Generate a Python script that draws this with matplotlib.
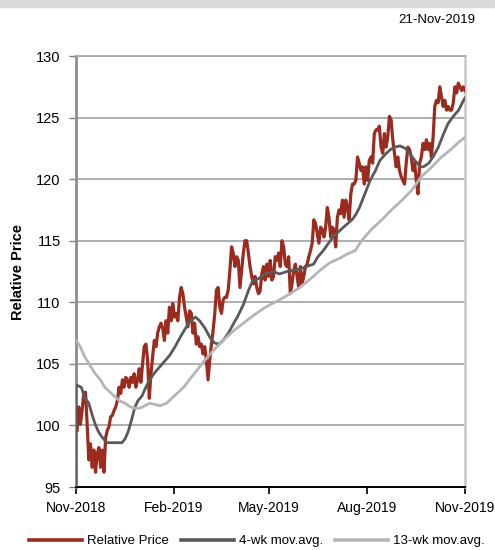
import matplotlib

matplotlib.use("Agg")
import matplotlib.pyplot as plt
import matplotlib.patches as mpatches
import pandas as pd

plt.rcParams["font.family"] = ["Liberation Sans", "DejaVu Sans"]

start = pd.Timestamp("2018-11-21")
first_obs = pd.Timestamp("2018-11-22")
end = pd.Timestamp("2019-11-21")
as_of = "21-Nov-2019"

# daily relative price
relative_price = [
    99.6, 101.5, 100.1, 101.2, 102.6, 102.7, 100.1, 97.2, 98.5, 96.6,
    98.0, 96.2, 97.7, 98.2, 96.6, 98.0, 96.2, 99.0, 99.6, 99.9,
    100.7, 100.8, 101.2, 101.5, 102.0, 103.1, 102.6, 103.7, 103.1, 103.9,
    103.7, 103.1, 103.9, 103.5, 104.2, 103.1, 103.7, 104.6, 103.5, 105.0,
    106.4, 106.6, 105.3, 102.2, 104.2, 105.6, 106.9, 106.4, 107.5, 108.0,
    108.3, 107.9, 106.9, 108.5, 107.5, 109.6, 108.5, 109.9, 108.8, 109.1,
    108.5, 110.4, 111.2, 110.7, 109.6, 108.8, 108.0, 109.3, 109.1, 107.5,
    108.3, 106.6, 107.2, 106.4, 106.6, 105.8, 106.4, 105.3, 103.7, 105.3,
    106.6, 107.7, 109.1, 111.0, 111.2, 109.6, 109.1, 110.2, 110.4, 110.4,
    111.0, 112.6, 114.5, 114.0, 112.9, 113.7, 113.4, 111.2, 112.6, 114.0,
    115.0, 115.0, 114.0, 112.9, 112.1, 111.5, 112.1, 111.2, 110.7, 110.9,
    112.3, 112.9, 111.8, 113.1, 112.1, 113.4, 111.8, 112.1, 113.7, 113.4,
    114.0, 112.9, 115.0, 114.5, 113.1, 112.9, 113.7, 110.7, 111.5, 112.6,
    113.1, 112.1, 111.2, 112.9, 111.5, 112.1, 112.9, 113.1, 113.7, 114.2,
    114.8, 116.7, 116.4, 115.6, 114.8, 116.1, 115.9, 115.3, 116.1, 117.7,
    116.9, 115.3, 116.1, 115.9, 114.5, 116.9, 117.5, 117.2, 118.3, 116.9,
    118.3, 117.7, 116.7, 118.8, 119.6, 119.6, 119.9, 121.8, 121.3, 120.7,
    121.0, 119.6, 121.0, 119.9, 121.5, 121.8, 121.3, 123.7, 124.0, 124.0,
    124.3, 122.6, 122.1, 123.7, 122.6, 123.4, 125.1, 124.8, 123.2, 122.1,
    121.0, 121.8, 120.7, 120.2, 119.9, 119.6, 121.3, 122.6, 122.4, 121.8,
    120.7, 121.3, 119.9, 118.8, 121.3, 121.8, 122.9, 122.4, 123.2, 122.4,
    122.9, 121.8, 123.4, 125.9, 126.4, 126.2, 127.5, 126.7, 125.9, 126.4,
    125.6, 125.9, 125.6, 125.6, 126.2, 127.5, 127.0, 127.8, 127.5, 127.2,
    127.5, 127.2,
]

# moving averages: days since start, value
# (the 4-wk line comes up from below the axis at the first date)
wk4_days = [
    0, 0, 5, 8, 12, 15, 18, 21, 24, 29, 33, 38, 43, 46, 49, 52, 55, 58,
    62, 65, 69, 74, 79, 84, 88, 93, 98, 107, 112, 116, 121, 126, 130, 134,
    138, 143, 148, 152, 157, 162, 166, 171, 177, 185, 191, 198, 204, 210,
    216, 223, 227, 232, 237, 241, 246, 251, 255, 260, 263, 266, 271, 276,
    281, 285, 290, 295, 299, 304, 309, 313, 318, 323, 326, 331, 335, 340,
    345, 349, 354, 359, 363, 365,
]
wk4_values = [
    0.0, 103.3, 103.1, 102.3, 101.8, 100.9, 100.1, 99.5, 99.1, 98.6, 98.6,
    98.6, 98.6, 98.9, 99.5, 100.4, 101.4, 102.0, 102.4, 103.0, 103.7,
    104.3, 104.8, 105.3, 105.7, 106.4, 107.2, 108.5, 108.8, 108.5, 107.9,
    107.1, 106.7, 106.6, 106.9, 107.5, 108.3, 108.9, 109.8, 111.0, 111.8,
    111.9, 112.3, 112.5, 112.3, 112.5, 112.6, 112.7, 112.9, 113.1, 113.7,
    114.2, 114.8, 115.3, 115.7, 116.1, 116.4, 116.8, 117.2, 117.7, 118.8,
    119.9, 120.7, 121.5, 122.0, 122.4, 122.6, 122.7, 122.5, 122.1, 121.5,
    121.0, 121.0, 121.3, 121.8, 122.6, 123.7, 124.5, 125.1, 125.6, 126.3,
    126.6,
]
wk13_days = [
    0, 4, 8, 13, 18, 23, 27, 32, 37, 41, 46, 51, 55, 60, 69, 79, 85,
    91, 101, 110, 119, 129, 138, 148, 157, 166, 176, 182, 191, 201, 210,
    220, 229, 238, 248, 254, 262, 268, 277, 287, 296, 306, 315, 324, 334,
    343, 353, 359, 365,
]
wk13_values = [
    106.9, 106.4, 105.6, 104.9, 104.2, 103.7, 103.1, 102.7, 102.3, 102.0,
    101.8, 101.5, 101.4, 101.4, 101.8, 101.6, 101.8,
    102.3, 103.1, 104.1, 105.1, 106.1, 106.9, 107.7, 108.3, 108.9, 109.5,
    109.8, 110.2, 110.7, 111.2, 111.9, 112.6, 113.2, 113.6, 113.9, 114.2,
    115.0, 115.9, 116.7, 117.5, 118.3, 119.1, 120.2, 121.0, 121.8, 122.5,
    123.0, 123.4,
]

tick_dates = ["2018-11-21", "2019-02-21", "2019-05-21", "2019-08-21", "2019-11-21"]
tick_labels = ["Nov-2018", "Feb-2019", "May-2019", "Aug-2019", "Nov-2019"]

red = "#9b2b1e"
dark = "#5a5a5a"
light = "#b5b5b5"
grid_grey = "#a8a8a8"

price_dates = pd.date_range(first_obs, end, periods=len(relative_price))
wk4_dates = start + pd.to_timedelta(wk4_days, unit="D")
wk13_dates = start + pd.to_timedelta(wk13_days, unit="D")

fig = plt.figure(figsize=(4.95, 5.5), dpi=100)
fig.patches.append(
    mpatches.Rectangle((0, 1 - 7 / 550), 1, 7 / 550, transform=fig.transFigure,
                       color="#d9d9d9", zorder=0)
)
fig.text(475 / 495, 1 - 20 / 550, as_of, ha="right", va="center", fontsize=9.5)

ax = fig.add_axes([76 / 495, 1 - 487 / 550, 389 / 495, 431 / 550])

ax.plot(price_dates, relative_price, color=red, lw=2.3, label="Relative Price",
        solid_joinstyle="round", zorder=3)
ax.plot(wk4_dates, wk4_values, color=dark, lw=2.0, label="4-wk mov.avg.", zorder=4)
ax.plot(wk13_dates, wk13_values, color=light, lw=2.0, label="13-wk mov.avg.", zorder=5)

ax.set_xlim(start, end)
ax.set_ylim(95, 130)
ax.set_yticks(range(95, 131, 5))
ax.set_xticks(pd.to_datetime(tick_dates))
ax.set_xticklabels(tick_labels)

ax.yaxis.grid(True, color=grid_grey, lw=1.3)
ax.set_axisbelow(True)

ax.spines["left"].set_color("#8c8c8c")
ax.spines["left"].set_linewidth(2.0)
ax.spines["bottom"].set_color("black")
ax.spines["bottom"].set_linewidth(1.4)
ax.spines["top"].set_color(grid_grey)
ax.spines["top"].set_linewidth(1.3)
ax.spines["right"].set_color("#c8c8c8")
ax.spines["right"].set_linewidth(1.8)

ax.tick_params(axis="y", direction="out", length=5, width=1, color="#808080",
               pad=6, labelsize=10.5)
ax.tick_params(axis="x", direction="out", length=5, width=1.2, color="black",
               pad=5, labelsize=10)

ax.set_ylabel("Relative Price", fontsize=10.5, fontweight="bold", labelpad=8)

leg = fig.legend(loc="center", bbox_to_anchor=(257 / 495, 1 - 541 / 550), ncol=3,
                 frameon=False, fontsize=9.5, handlelength=4.0, handletextpad=0.4,
                 columnspacing=0.9, borderaxespad=0)
for line in leg.get_lines():
    line.set_linewidth(2.6)

fig.savefig("out.png", dpi=100)
